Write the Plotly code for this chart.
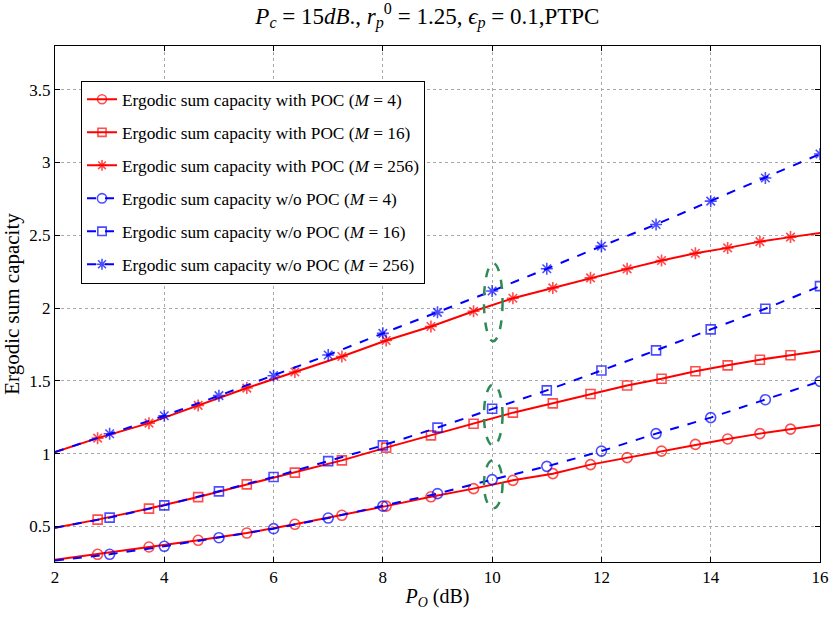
import plotly.graph_objects as go

# ---------------- data ----------------
# red (with POC): line from 2 to 16, markers at intermediate points
red_x = [2.0, 2.78, 3.72, 4.62, 5.51, 6.39, 7.25, 8.06, 8.88, 9.66, 10.38,
         11.11, 11.80, 12.47, 13.10, 13.72, 14.31, 14.90, 15.46, 16.0]
red_m4 = [0.27, 0.308, 0.358, 0.404, 0.454, 0.514, 0.576, 0.639, 0.703, 0.759, 0.816,
          0.862, 0.924, 0.972, 1.017, 1.063, 1.100, 1.137, 1.168, 1.197]
red_m16 = [0.49, 0.546, 0.622, 0.701, 0.788, 0.869, 0.953, 1.041, 1.125, 1.205, 1.281,
           1.345, 1.409, 1.468, 1.514, 1.565, 1.606, 1.645, 1.675, 1.704]
red_m256 = [1.01, 1.106, 1.209, 1.331, 1.450, 1.560, 1.667, 1.777, 1.873, 1.978, 2.067,
            2.138, 2.207, 2.269, 2.326, 2.376, 2.413, 2.456, 2.487, 2.515]

# blue (w/o POC): integer P_O
blue_x = [2, 3, 4, 5, 6, 7, 8, 9, 10, 11, 12, 13, 14, 15, 16]
blue_m4 = [0.265, 0.308, 0.363, 0.422, 0.484, 0.557, 0.639, 0.725, 0.821,
           0.912, 1.017, 1.137, 1.247, 1.370, 1.496]
blue_m16 = [0.49, 0.560, 0.644, 0.740, 0.839, 0.948, 1.056, 1.178, 1.308,
            1.434, 1.571, 1.709, 1.853, 1.995, 2.150]
blue_m256 = [1.01, 1.136, 1.260, 1.398, 1.535, 1.677, 1.826, 1.970, 2.117,
             2.270, 2.425, 2.574, 2.734, 2.893, 3.058]

x_ticks = [2, 4, 6, 8, 10, 12, 14, 16]
y_ticks = [0.5, 1, 1.5, 2, 2.5, 3, 3.5]

# highlight ellipses at P_O = 10 dB
ell_x = 10.02
ell_halfw = 0.17
ell_cy = [2.04, 1.265, 0.79]
ell_halfh = [0.268, 0.21, 0.166]

FONT = "Liberation Serif"
RED = "#ff0000"
BLUE = "#0000ff"


def sizes(n, s, skip_last=True):
    arr = [s] * n
    arr[0] = 0
    if skip_last:
        arr[-1] = 0
    return arr


fig = go.Figure()

series = [
    (red_x, red_m4, RED, "solid", "circle-open", 10, "with POC", "4", True),
    (red_x, red_m16, RED, "solid", "square-open", 9, "with POC", "16", True),
    (red_x, red_m256, RED, "solid", "asterisk-open", 10, "with POC", "256", True),
    (blue_x, blue_m4, BLUE, "dash", "circle-open", 10, "w/o POC", "4", False),
    (blue_x, blue_m16, BLUE, "dash", "square-open", 9, "w/o POC", "16", False),
    (blue_x, blue_m256, BLUE, "dash", "asterisk-open", 10, "w/o POC", "256", False),
]

for i, (xs, ys, col, dash, sym, ms, lab, m, skip_last) in enumerate(series):
    fig.add_trace(go.Scatter(
        x=xs, y=ys, mode="lines+markers",
        name=f"Ergodic sum capacity {lab} (<i>M</i> = {m})",
        line=dict(color=col, width=2, dash=dash),
        marker=dict(symbol=sym, size=sizes(len(xs), ms, skip_last),
                    color=col, line=dict(color=col, width=1.6)),
        legendgroup=f"g{i}",
    ))

for cy, hh in zip(ell_cy, ell_halfh):
    fig.add_shape(type="circle", xref="x", yref="y",
                  x0=ell_x - ell_halfw, x1=ell_x + ell_halfw,
                  y0=cy - hh, y1=cy + hh,
                  line=dict(color="#2e8b57", width=2.5, dash="dash"))

axis_common = dict(
    showline=True, linecolor="black", linewidth=1, mirror="ticks",
    ticks="inside", ticklen=5, tickcolor="black", tickwidth=1,
    showgrid=True, gridcolor="#a8a8a8", griddash="dot", gridwidth=1,
    zeroline=False, tickfont=dict(family=FONT, size=17, color="black"),
)

fig.update_layout(
    width=838, height=619,
    margin=dict(l=55, r=9, t=46, b=57),
    paper_bgcolor="white", plot_bgcolor="white",
    font=dict(family=FONT, color="black"),
    title=dict(
        text="<i>P</i><sub><i>c</i></sub> = 15<i>dB</i>., <i>r</i><sub><i>p</i></sub><sup>0</sup> = 1.25, <i>ϵ</i><sub><i>p</i></sub> = 0.1,PTPC",
        x=0.51, xanchor="center", y=0.975, yanchor="middle",
        font=dict(family=FONT, size=23, color="black"),
    ),
    xaxis=dict(range=[2, 16], tickvals=x_ticks,
               title=dict(text="<i>P</i><sub><i>O</i></sub> (dB)",
                          font=dict(family=FONT, size=20), standoff=2),
               **axis_common),
    yaxis=dict(range=[0.255, 3.8], tickvals=y_ticks,
               title=dict(text="Ergodic sum capacity",
                          font=dict(family=FONT, size=21), standoff=6),
               **axis_common),
    legend=dict(
        x=0.034, y=0.933, xanchor="left", yanchor="top",
        bgcolor="white", bordercolor="black", borderwidth=1,
        font=dict(family=FONT, size=17.3, color="black"),
        traceorder="grouped", tracegroupgap=7.5,
        itemwidth=30,
    ),
    showlegend=True,
)

fig.write_html("out.html")
